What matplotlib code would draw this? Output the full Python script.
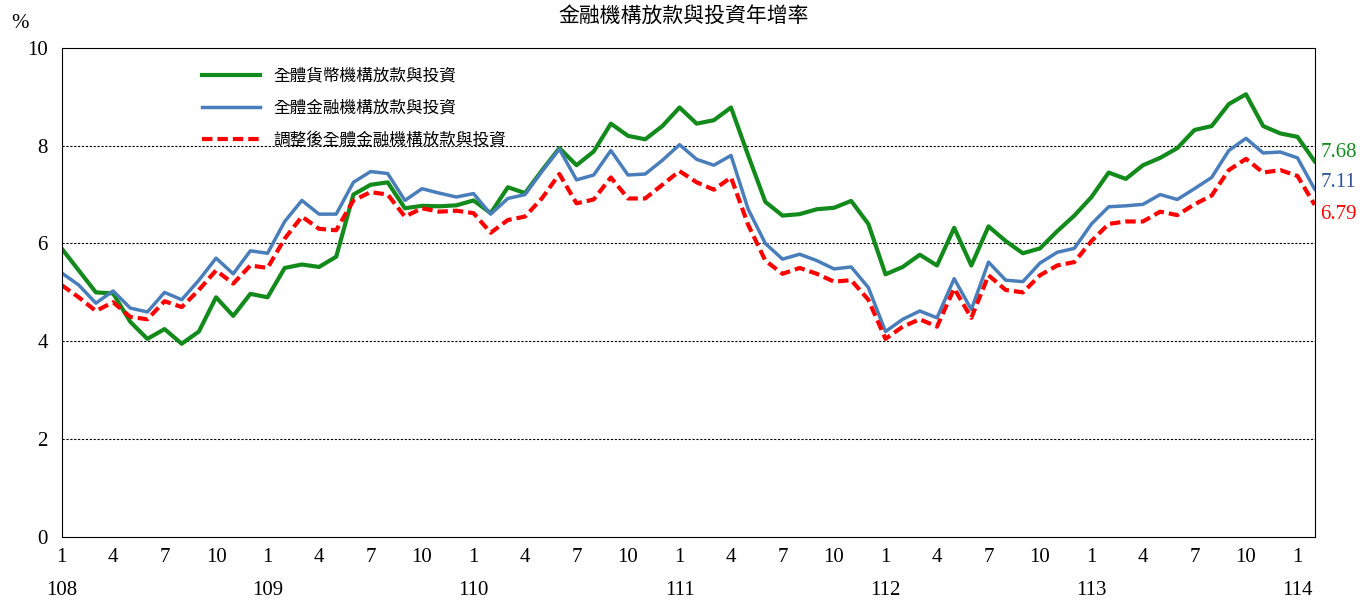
import matplotlib
matplotlib.use("Agg")
import matplotlib.pyplot as plt

green = [5.9,5.45,5.0,4.98,4.4,4.05,4.25,3.95,4.2,4.9,4.52,4.97,
 4.9,5.5,5.57,5.52,5.73,7.0,7.2,7.25,6.72,6.77,6.76,6.78,
 6.88,6.62,7.15,7.03,7.5,7.95,7.6,7.88,8.45,8.2,8.13,8.4,
 8.78,8.45,8.52,8.78,7.8,6.85,6.57,6.6,6.7,6.73,6.87,6.4,
 5.37,5.52,5.77,5.55,6.32,5.55,6.35,6.05,5.8,5.9,6.25,6.57,
 6.95,7.45,7.32,7.6,7.75,7.95,8.32,8.4,8.85,9.05,8.4,8.25,8.18,7.68]
blue = [5.4,5.15,4.78,5.03,4.68,4.6,5.0,4.85,5.25,5.7,5.38,5.85,
 5.8,6.45,6.88,6.6,6.6,7.25,7.47,7.43,6.88,7.12,7.03,6.95,
 7.02,6.6,6.92,7.0,7.48,7.93,7.3,7.4,7.9,7.4,7.42,7.7,
 8.02,7.72,7.6,7.8,6.7,6.0,5.68,5.78,5.65,5.48,5.52,5.1,
 4.2,4.45,4.62,4.48,5.28,4.65,5.62,5.25,5.22,5.6,5.82,5.9,
 6.4,6.75,6.77,6.8,7.0,6.9,7.12,7.35,7.9,8.15,7.85,7.87,7.75,7.11]
red = [5.15,4.9,4.62,4.8,4.5,4.45,4.82,4.7,5.05,5.45,5.18,5.55,
 5.5,6.1,6.55,6.3,6.27,6.88,7.05,7.0,6.55,6.72,6.65,6.67,
 6.62,6.22,6.48,6.55,6.93,7.42,6.82,6.9,7.35,6.92,6.92,7.2,
 7.48,7.25,7.1,7.35,6.38,5.65,5.38,5.5,5.38,5.22,5.25,4.85,
 4.05,4.3,4.45,4.3,5.08,4.48,5.35,5.05,5.0,5.35,5.55,5.62,
 6.05,6.4,6.45,6.45,6.65,6.58,6.8,6.98,7.5,7.73,7.45,7.5,7.38,6.79]
years = ["108","109","110","111","112","113","114"]
names = ["全體貨幣機構放款與投資","全體金融機構放款與投資","調整後全體金融機構放款與投資"]
title = "金融機構放款與投資年增率"

cjk = ["Noto Sans CJK TC", "DejaVu Sans"]
serif = "Liberation Serif"
cG, cB, cR = "#138a1c", "#2f5597", "#ff0000"

fig = plt.figure(figsize=(13.68, 6.13), dpi=100)
ax = fig.add_axes([0.045, 0.124, 0.916, 0.798])
x = list(range(len(green)))
ax.plot(x, green, color=cG, lw=3, label=names[0])
ax.plot(x, blue, color="#4a7ebb", lw=2.5, label=names[1])
ax.plot(x, red, color=cR, lw=3, ls=(0, (2.5, 1.2)), label=names[2])
ax.set_xlim(0, len(green) - 1)
ax.set_ylim(0, 10)
ax.set_yticks(range(0, 11, 2))
for y in [2, 4, 6, 8]:
    ax.axhline(y, color="black", lw=0.8, ls=(0, (2, 1.5)), zorder=0)
ticks = list(range(0, len(green), 3))
labs = []
for t in ticks:
    m = t % 12 + 1
    labs.append(f"{m}\n{years[t//12]}" if m == 1 else f"{m}")
ax.set_xticks(ticks)
ax.set_xticklabels(labs, fontfamily=serif, fontsize=15, linespacing=2.0, va="top")
ax.tick_params(axis="x", length=0, pad=8)
ax.tick_params(axis="y", length=0, labelsize=15, pad=10)
for l in ax.get_yticklabels():
    l.set_fontfamily(serif)
fig.text(0.008, 0.955, "%", fontfamily=serif, fontsize=15)
fig.text(0.5, 0.975, title, ha="center", va="center", fontfamily=cjk, fontsize=15)
ax.legend(loc="upper left", bbox_to_anchor=(0.1, 0.99), frameon=False,
          prop={"family": cjk, "size": 12}, handlelength=3.5, labelspacing=0.9)
n = len(green) - 1
for v, c, ypos in [(green[-1], cG, 7.85), (blue[-1], cB, 7.25), (red[-1], cR, 6.6)]:
    ax.annotate(f"{v:.2f}", (n, ypos), xytext=(4, 0), textcoords="offset points",
                va="center", color=c, fontfamily=serif, fontsize=15, annotation_clip=False)
fig.savefig("out.png", dpi=100)
